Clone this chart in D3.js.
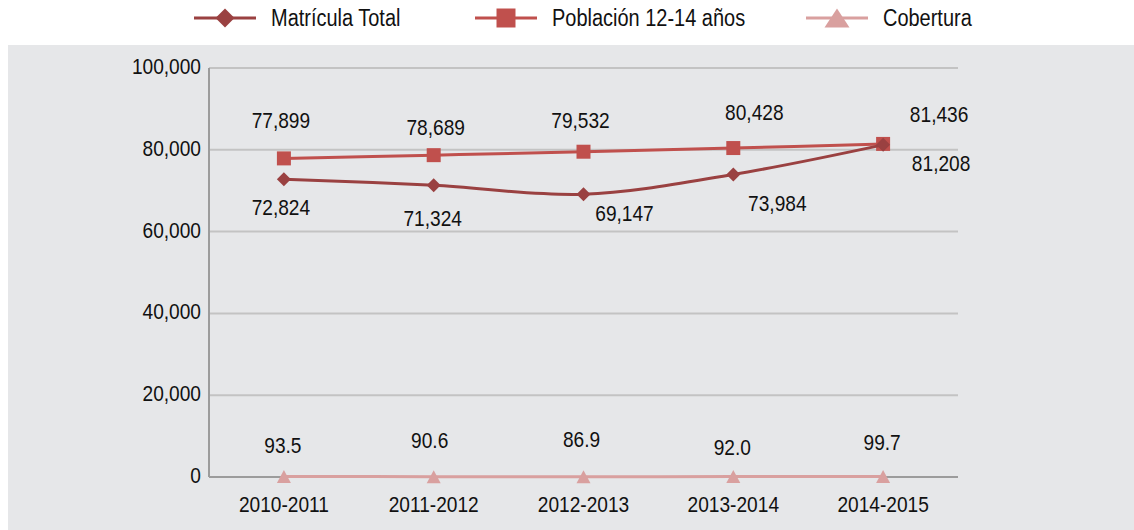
<!DOCTYPE html>
<html>
<head>
<meta charset="utf-8">
<script src="https://cdn.jsdelivr.net/npm/d3@7"></script>
<style>
  body { margin: 0; background: #fff; }
  text { font-family: "Liberation Sans", Arial, sans-serif; fill: #111; }
</style>
</head>
<body>
<div id="chart"></div>
<script>
// Data
const years = ["2010-2011", "2011-2012", "2012-2013", "2013-2014", "2014-2015"];
const matricula = [72824, 71324, 69147, 73984, 81208];
const poblacion = [77899, 78689, 79532, 80428, 81436];
const cobertura = [93.5, 90.6, 86.9, 92.0, 99.7];
const yTicks = [0, 20000, 40000, 60000, 80000, 100000];

// Label placement (pixel offsets from each point)
const pobOffset = [[-3, -38], [2, -28], [-3, -32], [21, -36], [56, -30]];
const matOffset = [[-3, 28], [-1, 33], [41, 19], [44, 29], [58, 18]];
const cobOffset = [[-1, -32], [-4, -37], [-2, -38], [-1, -30], [-1, -35]];

const width = 1134, height = 530;
const margin = { left: 209, right: 1134 - 958, top: 68, bottom: 530 - 477 };
const narrow = 0.85; // squeeze text to look like a narrow face

const colors = { mat: "#9a4141", pob: "#c0504d", cob: "#d9a09f" };

const svg = d3.select("#chart").append("svg")
    .attr("width", width)
    .attr("height", height);

// Gray panel
svg.append("rect")
    .attr("x", 8).attr("y", 45)
    .attr("width", width - 8).attr("height", height - 45)
    .attr("fill", "#e6e7e9");

const x = d3.scaleBand()
    .domain(years)
    .range([margin.left, width - margin.right]);

const y = d3.scaleLinear()
    .domain([0, 100000])
    .range([height - margin.bottom, margin.top]);

const cx = d => x(d) + x.bandwidth() / 2;
const fmt = d3.format(",");
const place = (px, py) => `translate(${px},${py}) scale(${narrow},1)`;

// Gridlines
svg.append("g")
    .selectAll("line")
    .data(yTicks.filter(d => d > 0))
    .join("line")
    .attr("x1", margin.left).attr("x2", width - margin.right)
    .attr("y1", d => y(d)).attr("y2", d => y(d))
    .attr("stroke", "#c3c3c3")
    .attr("stroke-width", 2);

// Axes lines
svg.append("line")
    .attr("x1", margin.left).attr("x2", width - margin.right)
    .attr("y1", y(0)).attr("y2", y(0))
    .attr("stroke", "#9c9c9c").attr("stroke-width", 2);
svg.append("line")
    .attr("x1", margin.left).attr("x2", margin.left)
    .attr("y1", y(100000)).attr("y2", y(0))
    .attr("stroke", "#9c9c9c").attr("stroke-width", 2);

// Y tick labels
svg.append("g")
    .selectAll("text")
    .data(yTicks)
    .join("text")
    .attr("transform", d => place(201, y(d) - 2))
    .attr("text-anchor", "end")
    .attr("dominant-baseline", "central")
    .style("font-size", "22.5px")
    .text(d => fmt(d));

// X tick labels
svg.append("g")
    .selectAll("text")
    .data(years)
    .join("text")
    .attr("transform", d => place(cx(d), 504))
    .attr("text-anchor", "middle")
    .attr("dominant-baseline", "central")
    .style("font-size", "22.5px")
    .text(d => d);

const line = d3.line()
    .x((d, i) => cx(years[i]))
    .y(d => y(d))
    .curve(d3.curveCatmullRom.alpha(0.5));

// Marker shapes
const diamond = s => `M0,${-s / 2}L${s / 2},0L0,${s / 2}L${-s / 2},0Z`;
const square = s => `M${-s / 2},${-s / 2}h${s}v${s}h${-s}Z`;
const triangle = (w, h) => `M0,${-h / 2}L${w / 2},${h / 2}L${-w / 2},${h / 2}Z`;

function drawSeries(values, color, shape, offsets, labelFmt) {
    const g = svg.append("g");
    g.append("path")
        .datum(values)
        .attr("d", line)
        .attr("fill", "none")
        .attr("stroke", color)
        .attr("stroke-width", 3);
    g.selectAll("path.pt")
        .data(values)
        .join("path")
        .attr("class", "pt")
        .attr("transform", (d, i) => `translate(${cx(years[i])},${y(d)})`)
        .attr("d", shape)
        .attr("fill", color);
    g.selectAll("text")
        .data(values)
        .join("text")
        .attr("transform", (d, i) => place(cx(years[i]) + offsets[i][0], y(d) + offsets[i][1]))
        .attr("text-anchor", "middle")
        .attr("dominant-baseline", "central")
        .style("font-size", "22.5px")
        .text(labelFmt);
}

drawSeries(cobertura, colors.cob, triangle(14, 13), cobOffset, d => d3.format(".1f")(d));
drawSeries(poblacion, colors.pob, square(14), pobOffset, d => fmt(d));
drawSeries(matricula, colors.mat, diamond(14), matOffset, d => fmt(d));

// Legend
const legend = [
    { name: "Matrícula Total", color: colors.mat, shape: diamond(19), x: 194 },
    { name: "Población 12-14 años", color: colors.pob, shape: square(19), x: 475 },
    { name: "Cobertura", color: colors.cob, shape: triangle(25, 19), x: 806 }
];

const lg = svg.append("g")
    .selectAll("g")
    .data(legend)
    .join("g")
    .attr("transform", d => `translate(${d.x},18)`);

lg.append("line")
    .attr("x1", 0).attr("x2", 62)
    .attr("stroke", d => d.color)
    .attr("stroke-width", 3);
lg.append("path")
    .attr("transform", "translate(31,0)")
    .attr("d", d => d.shape)
    .attr("fill", d => d.color);
lg.append("text")
    .attr("transform", place(77, 0))
    .attr("dominant-baseline", "central")
    .style("font-size", "23.5px")
    .text(d => d.name);
</script>
</body>
</html>
